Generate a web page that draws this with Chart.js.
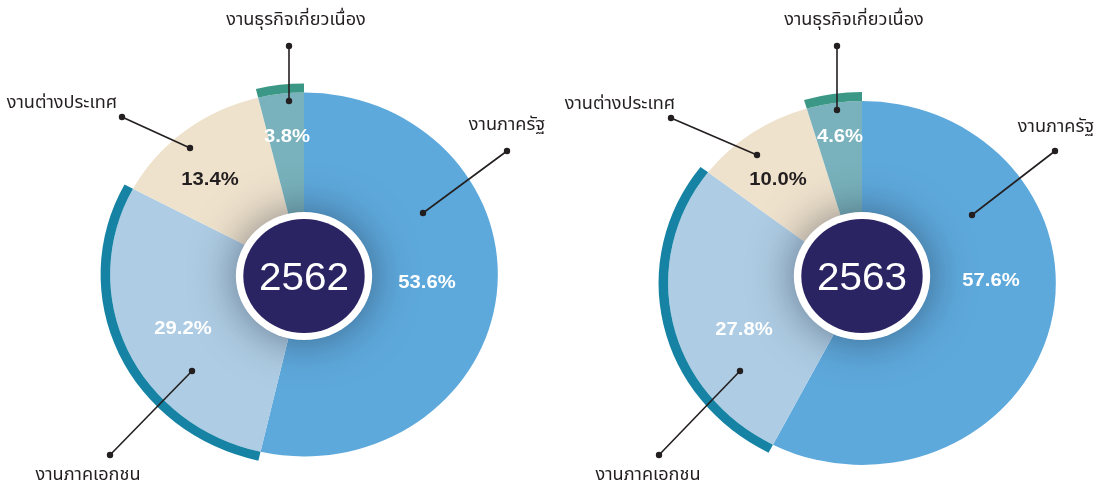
<!DOCTYPE html>
<html><head><meta charset="utf-8">
<script src="https://cdn.jsdelivr.net/npm/chart.js@4.4.1/dist/chart.umd.min.js"></script>
<style>
html,body{margin:0;padding:0;background:#fff;width:1097px;height:483px;overflow:hidden}
canvas{position:absolute;left:0;top:0}
</style></head><body>
<canvas id="c1" width="1097" height="483"></canvas>
<canvas id="c2" width="1097" height="483"></canvas>
<script>
// ---- data ----
const categories = ['งานภาครัฐ', 'งานภาคเอกชน', 'งานต่างประเทศ', 'งานธุรกิจเกี่ยวเนื่อง'];
const years = ['2562', '2563'];
const values2562 = [53.6, 29.2, 13.4, 3.8];
const values2563 = [57.6, 27.8, 10.0, 4.6];

// ---- style ----
const sliceColors = ['#5ea9dc', '#aecce3', '#efe2cc', '#79b2bc'];
const bandColors = ['rgba(0,0,0,0)', '#1683a4', 'rgba(0,0,0,0)', '#3b9886'];
const pctColors = ['#ffffff', '#ffffff', '#231f20', '#ffffff'];
const W = 1097, H = 483, R = 191, SX = 1.065;
const THAI = '"Noto Sans Thai", "Noto Sans Thai UI", "Loma", "Garuda", "Liberation Sans", sans-serif';

const layouts = [
  { cx: 304, cy: 274.5, ccy: 276,
    pct: [[427, 283], [183, 329], [210, 180], [287, 137]],
    names: [[507, 127], [88, 477], [62, 105], [296, 22]],
    leaders: [[[507, 151], [423, 213]], [[110, 455], [192, 371]], [[122, 117], [190, 148]], [[289, 46], [289, 101]]] },
  { cx: 862, cy: 283, ccy: 276,
    pct: [[991, 281], [744, 330], [778, 180], [840, 137]],
    names: [[1056, 129], [648, 477], [620, 106], [854, 22]],
    leaders: [[[1055, 151], [972, 215]], [[659, 455], [740, 371]], [[671, 118], [757, 155]], [[837, 46], [837, 110]]] }
];

function stretchedText(ctx, txt, x, y) {
  ctx.save();
  ctx.translate(x, y);
  ctx.scale(SX, 1);
  ctx.fillText(txt, 0, 0);
  ctx.restore();
}

function makePlugin(L, year) {
  return {
    id: 'deco' + year,
    beforeDatasetsDraw(chart) {
      const ctx = chart.ctx;
      ctx.save();
      ctx.translate(L.cx, L.cy);
      ctx.scale(SX, 1);
      ctx.translate(-L.cx, -L.cy);
    },
    afterDatasetsDraw(chart) {
      const ctx = chart.ctx;
      ctx.save();
      ctx.beginPath();
      ctx.arc(L.cx, L.ccy, 64, 0, Math.PI * 2);
      ctx.shadowColor = 'rgba(25,35,55,0.52)';
      ctx.shadowBlur = 44;
      ctx.fillStyle = '#ffffff';
      ctx.fill();
      ctx.restore();
      ctx.beginPath();
      ctx.arc(L.cx, L.ccy, 57, 0, Math.PI * 2);
      ctx.fillStyle = '#2a2463';
      ctx.fill();
      ctx.restore(); // end stretch
    },
    afterDraw(chart) {
      const ctx = chart.ctx;
      ctx.save();
      ctx.textAlign = 'center';
      ctx.textBaseline = 'middle';
      ctx.fillStyle = '#ffffff';
      ctx.font = '38px "Liberation Sans", Arial, sans-serif';
      stretchedText(ctx, year, L.cx, L.ccy + 4);
      const vals = chart.data.datasets[1].data;
      ctx.font = 'bold 19px "Liberation Sans", Arial, sans-serif';
      vals.forEach((v, i) => {
        ctx.fillStyle = pctColors[i];
        stretchedText(ctx, v.toFixed(1) + '%', L.pct[i][0], L.pct[i][1]);
      });
      ctx.strokeStyle = '#231f20';
      ctx.fillStyle = '#231f20';
      ctx.lineWidth = 1.6;
      L.leaders.forEach(([a, b]) => {
        ctx.beginPath(); ctx.moveTo(a[0], a[1]); ctx.lineTo(b[0], b[1]); ctx.stroke();
        [a, b].forEach(p => { ctx.beginPath(); ctx.arc(p[0], p[1], 3.2, 0, Math.PI * 2); ctx.fill(); });
      });
      ctx.font = '17px ' + THAI;
      chart.data.labels.forEach((t, i) => {
        stretchedText(ctx, t, L.names[i][0], L.names[i][1]);
      });
      ctx.restore();
    }
  };
}

function build(id, values, L, year) {
  new Chart(document.getElementById(id), {
    type: 'doughnut',
    data: {
      labels: categories,
      datasets: [
        { data: values, backgroundColor: bandColors, borderWidth: 0, weight: 9, clip: false },
        { data: values, backgroundColor: sliceColors, borderWidth: 0, weight: 182, clip: false }
      ]
    },
    options: {
      responsive: false, animation: false, devicePixelRatio: 1, cutout: 0, events: [],
      layout: { padding: { left: L.cx - R, right: W - (L.cx + R), top: L.cy - R, bottom: H - (L.cy + R) } },
      plugins: { legend: { display: false }, tooltip: { enabled: false } }
    },
    plugins: [makePlugin(L, year)]
  });
}
build('c1', values2562, layouts[0], years[0]);
build('c2', values2563, layouts[1], years[1]);
</script>
</body></html>
